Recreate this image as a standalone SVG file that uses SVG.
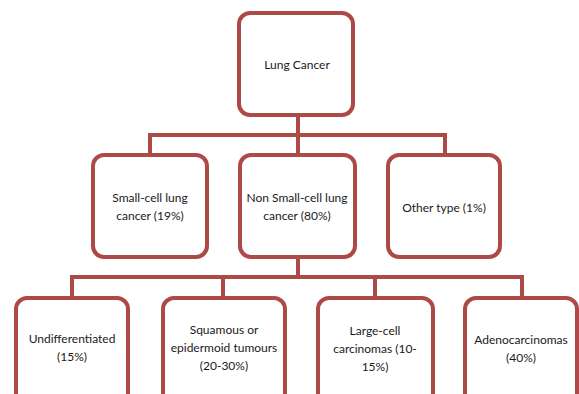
<svg xmlns="http://www.w3.org/2000/svg" width="579" height="394" viewBox="0 0 579 394">
<style>
.box{fill:#fff;stroke:#AD4A47;stroke-width:4}
.con{fill:none;stroke:#AD4A47;stroke-width:4}
text{font-family:Lato,"Liberation Sans",sans-serif;font-size:12px;fill:#1a1a1a;text-anchor:middle}
</style>
<rect width="579" height="394" fill="#fff"/>
<g id="connectors">
<path class="con" d="M298 115V135M150 155V135H445V155M298 135V155"/>
<path class="con" d="M298 257V277M72 298V277H522V298M223 277V298M375 277V298"/>
</g>
<g id="lung"><rect class="box" x="239" y="13" width="114" height="102" rx="11"/><text x="297" y="69">Lung Cancer</text></g>
<g id="small"><rect class="box" x="93" y="155" width="114" height="102" rx="11"/><text x="150" y="202">Small-cell lung</text><text x="150" y="220">cancer (19%)</text></g>
<g id="nonsmall"><rect class="box" x="240" y="155" width="115" height="102" rx="11"/><text x="297" y="202">Non Small-cell lung</text><text x="297" y="220">cancer (80%)</text></g>
<g id="other"><rect class="box" x="388" y="155" width="112" height="102" rx="11"/><text x="444" y="212">Other type (1%)</text></g>
<g id="undiff"><rect class="box" x="16" y="298" width="112" height="110" rx="11"/><text x="72" y="343">Undifferentiated</text><text x="72" y="361">(15%)</text></g>
<g id="squamous"><rect class="box" x="163" y="298" width="122" height="110" rx="11"/><text x="224" y="334">Squamous or</text><text x="224" y="352">epidermoid tumours</text><text x="224" y="370">(20-30%)</text></g>
<g id="large"><rect class="box" x="318" y="298" width="115" height="110" rx="11"/><text x="375" y="335">Large-cell</text><text x="375" y="353">carcinomas (10-</text><text x="375" y="371">15%)</text></g>
<g id="adeno"><rect class="box" x="465" y="298" width="112" height="110" rx="11"/><text x="521" y="344">Adenocarcinomas</text><text x="521" y="362">(40%)</text></g>
</svg>
